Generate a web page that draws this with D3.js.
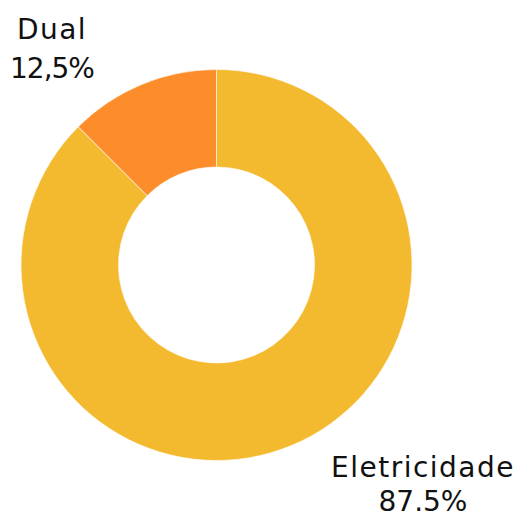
<!DOCTYPE html>
<html>
<head>
<meta charset="utf-8">
<script src="https://cdn.jsdelivr.net/npm/d3@7"></script>
<style>
  body { margin: 0; background: #fff; }
  text { font-family: "DejaVu Sans", sans-serif; fill: #111; }
</style>
</head>
<body>
<svg id="chart" width="521" height="518"></svg>
<script>
const categories = ['Eletricidade', 'Dual'];
const values = [87.5, 12.5];
const valueLabels = ['87.5%', '12,5%'];
const colors = ['#F4BA2F', '#FD8D2A'];

const width = 521, height = 518;
const cx = 216.5, cy = 265;
const outerR = 195.5, innerR = 98;

// where each label block sits (centre x, baseline of first line)
const labelPos = { 'Eletricidade': [423, 477], 'Dual': [52, 39] };

const svg = d3.select('#chart');
const g = svg.append('g').attr('transform', `translate(${cx},${cy})`);

const data = categories.map((c, i) => ({ name: c, value: values[i], label: valueLabels[i], color: colors[i] }));

const pie = d3.pie().value(d => d.value).sort(null);
const arc = d3.arc().innerRadius(innerR).outerRadius(outerR);

g.selectAll('path')
  .data(pie(data))
  .enter().append('path')
    .attr('d', arc)
    .attr('fill', d => d.data.color)
    .attr('stroke', 'rgba(255,255,255,0.6)')
    .attr('stroke-width', 1);

const labels = svg.selectAll('.label')
  .data(data)
  .enter().append('text')
    .attr('class', 'label')
    .attr('text-anchor', 'middle')
    .style('font-size', '28px')
    .attr('x', d => labelPos[d.name][0])
    .attr('y', d => labelPos[d.name][1]);

labels.append('tspan')
  .attr('x', d => labelPos[d.name][0])
  .style('letter-spacing', '1.5px')
  .text(d => d.name);
labels.append('tspan')
  .attr('x', d => labelPos[d.name][0])
  .attr('dy', d => d.name === 'Dual' ? 39 : 34)
  .style('letter-spacing', d => d.name === 'Dual' ? '-1px' : '0px')
  .text(d => d.label);
</script>
</body>
</html>
